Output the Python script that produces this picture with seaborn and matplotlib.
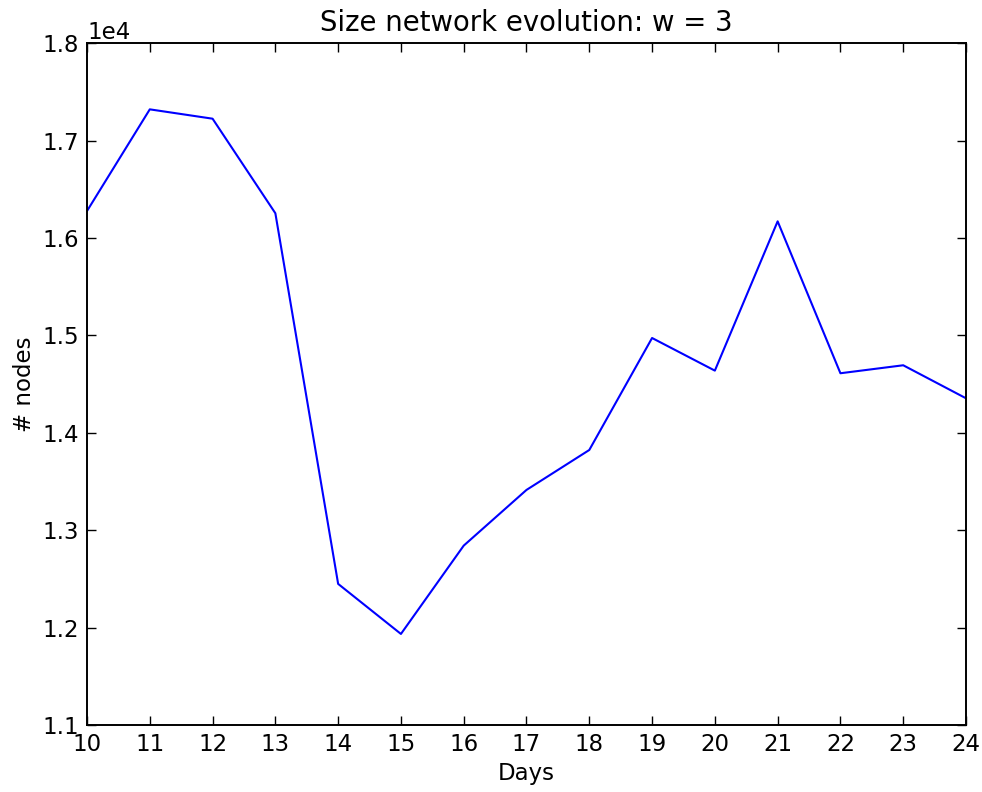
"""
Size of the network over the days, window w = 3
"""

import matplotlib

matplotlib.use("Agg")
import matplotlib.pyplot as plt  # type: ignore
import pandas as pd  # type: ignore
import seaborn as sns  # type: ignore

days = [10, 11, 12, 13, 14, 15, 16, 17, 18, 19, 20, 21, 22, 23, 24]
nodes = [16278, 17322, 17226, 16255, 12449, 11935, 12842, 13414,
         13824, 14974, 14639, 16172, 14612, 14694, 14355]
y_ticks = [11000, 12000, 13000, 14000, 15000, 16000, 17000, 18000]


def main():
    df = pd.DataFrame({"Days": days, "# nodes": nodes})

    sns.set_style("ticks")
    plt.rcParams["font.family"] = ["DejaVu Sans"]
    plt.rcParams["font.size"] = 16.5
    plt.rcParams["text.color"] = "black"
    plt.rcParams["axes.labelcolor"] = "black"

    fig = plt.figure(figsize=(9.82, 7.92), dpi=100)
    ax = fig.add_axes([0.0886, 0.0846, 0.8951, 0.8607])

    sns.lineplot(data=df, x="Days", y="# nodes", color="#0000ff",
                 linewidth=1.5, ax=ax)

    ax.set_xlim(10, 24)
    ax.set_ylim(11000, 18000)
    ax.set_xticks(days)
    ax.set_yticks(y_ticks)
    ax.ticklabel_format(axis="y", style="sci", scilimits=(0, 0))
    ax.yaxis.get_offset_text().set_fontsize(16.5)
    ax.yaxis.get_offset_text().set_color("black")

    ax.tick_params(direction="in", top=True, right=True, length=6.5,
                   width=1, labelsize=16.5, colors="black", pad=6)
    for s in ax.spines.values():
        s.set_visible(True)
        s.set_linewidth(1.4)
        s.set_color("black")

    ax.set_title("Size network evolution: w = 3", fontsize=19.8, pad=9,
                 color="black")
    ax.set_xlabel("Days", fontsize=16.5, color="black")
    ax.set_ylabel("# nodes", fontsize=16.5, color="black")

    fig.savefig("out.png", dpi=100)


if __name__ == "__main__":
    main()
